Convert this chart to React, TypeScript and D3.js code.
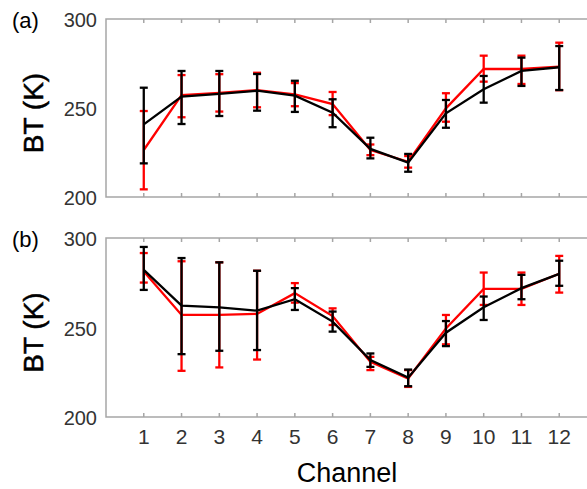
import React, { useRef, useEffect } from 'react';
import * as d3 from 'd3';

const channels = [1, 2, 3, 4, 5, 6, 7, 8, 9, 10, 11, 12];
const yTicks = [200, 250, 300];

// panel (a)
const aBlack = [240.8, 256.4, 257.9, 259.7, 256.9, 247.4, 227.0, 219.3, 247.0, 260.5, 270.8, 272.9];
const aBlackHi = [261.4, 270.8, 270.8, 269.1, 265.3, 254.9, 233.3, 224.2, 254.5, 268.0, 278.3, 284.8];
const aBlackLo = [218.9, 241.0, 245.5, 248.5, 247.8, 239.2, 221.7, 214.2, 238.9, 253.0, 262.4, 260.1];
const aRed = [226.4, 257.2, 258.5, 260.0, 257.7, 252.2, 226.4, 219.8, 249.8, 271.9, 271.9, 273.2];
const aRedHi = [248.3, 268.5, 269.0, 269.8, 264.0, 259.0, 229.5, 223.0, 258.3, 279.4, 279.4, 286.7];
const aRedLo = [204.3, 244.8, 248.0, 250.4, 251.0, 246.0, 223.5, 216.5, 242.3, 264.8, 263.5, 260.0];

// panel (b)
const bBlack = [282.2, 262.2, 261.3, 259.4, 265.8, 253.3, 231.8, 222.0, 247.1, 261.3, 272.0, 280.0];
const bBlackHi = [295.0, 288.8, 286.4, 281.7, 272.0, 258.9, 235.5, 226.5, 253.6, 267.3, 279.4, 287.3];
const bBlackLo = [271.0, 235.1, 237.0, 237.4, 259.8, 247.7, 228.0, 217.2, 239.6, 254.2, 265.8, 273.3];
const bRed = [281.3, 257.0, 257.0, 257.6, 269.2, 256.4, 230.8, 221.5, 249.5, 271.6, 271.6, 280.0];
const bRedHi = [291.6, 287.0, 286.4, 281.7, 274.8, 260.7, 233.6, 226.2, 257.0, 280.7, 280.7, 290.0];
const bRedLo = [275.1, 225.8, 227.7, 232.1, 263.9, 251.4, 226.2, 216.8, 240.6, 262.6, 262.6, 269.5];

const panels = [
  { label: '(a)', top: 19, bottom: 197, series: [
    { color: '#f00', mean: aRed, hi: aRedHi, lo: aRedLo },
    { color: '#000', mean: aBlack, hi: aBlackHi, lo: aBlackLo },
  ] },
  { label: '(b)', top: 238, bottom: 417, series: [
    { color: '#f00', mean: bRed, hi: bRedHi, lo: bRedLo },
    { color: '#000', mean: bBlack, hi: bBlackHi, lo: bBlackLo },
  ] },
];

const App = () => {
  const svgRef = useRef<SVGSVGElement>(null);

  useEffect(() => {
    document.body.style.margin = '0';
    const svg = d3.select(svgRef.current);
    svg.selectAll('*').remove();

    const font = '"Liberation Sans", Arial, sans-serif';
    const left = 106;
    const x = d3.scaleLinear().domain([0, 13]).range([left, 597]);

    panels.forEach(p => {
      const y = d3.scaleLinear().domain([200, 300]).range([p.bottom, p.top]);
      const g = svg.append('g');

      // frame (left, top, bottom; right side runs off the page)
      const frame = g.append('g').attr('stroke', '#a6a6a6').attr('stroke-width', 1.5).attr('fill', 'none');
      frame.append('path').attr('d', `M587,${p.top}H${left}V${p.bottom}H587`);
      channels.forEach(c => {
        frame.append('line').attr('x1', x(c)).attr('x2', x(c)).attr('y1', p.top).attr('y2', p.top + 4);
        frame.append('line').attr('x1', x(c)).attr('x2', x(c)).attr('y1', p.bottom).attr('y2', p.bottom - 4);
      });

      // y tick labels
      g.selectAll('.ytick')
        .data(yTicks)
        .enter()
        .append('text')
        .attr('x', 97)
        .attr('y', d => y(d) + 8)
        .attr('text-anchor', 'end')
        .attr('fill', '#333')
        .style('font-family', font)
        .style('font-size', '20px')
        .text(d => d);

      // axis title, slightly heavier than regular
      g.append('text')
        .attr('transform', `translate(43,${(p.top + p.bottom) / 2 + 5}) rotate(-90)`)
        .attr('text-anchor', 'middle')
        .attr('fill', '#000')
        .attr('stroke', '#000')
        .attr('stroke-width', 0.5)
        .style('font-family', font)
        .style('font-size', '28px')
        .text('BT (K)');

      g.append('text')
        .attr('x', 12)
        .attr('y', p.top + 9)
        .attr('fill', '#000')
        .style('font-family', font)
        .style('font-size', '22px')
        .text(p.label);

      const line = d3.line<number>()
        .x((d, i) => x(channels[i]))
        .y(d => y(d));

      p.series.forEach(s => {
        const sg = g.append('g').attr('stroke', s.color).attr('fill', 'none').attr('stroke-width', 2.3);
        sg.append('path').datum(s.mean).attr('d', line);
        channels.forEach((c, i) => {
          const cx = x(c);
          sg.append('line').attr('x1', cx).attr('x2', cx).attr('y1', y(s.lo[i])).attr('y2', y(s.hi[i]));
          sg.append('line').attr('x1', cx - 4).attr('x2', cx + 4).attr('y1', y(s.lo[i])).attr('y2', y(s.lo[i]));
          sg.append('line').attr('x1', cx - 4).attr('x2', cx + 4).attr('y1', y(s.hi[i])).attr('y2', y(s.hi[i]));
        });
      });
    });

    // x tick labels
    svg.selectAll('.xtick')
      .data(channels)
      .enter()
      .append('text')
      .attr('x', d => x(d))
      .attr('y', 444)
      .attr('text-anchor', 'middle')
      .attr('fill', '#333')
      .style('font-family', font)
      .style('font-size', '21px')
      .text(d => d);

    svg.append('text')
      .attr('x', 347)
      .attr('y', 482)
      .attr('text-anchor', 'middle')
      .attr('fill', '#000')
      .style('font-family', font)
      .style('font-size', '27px')
      .text('Channel');
  }, []);

  return (
    <svg ref={svgRef} width={587} height={489} style={{ display: 'block', background: '#fff' }} />
  );
};

export default App;
